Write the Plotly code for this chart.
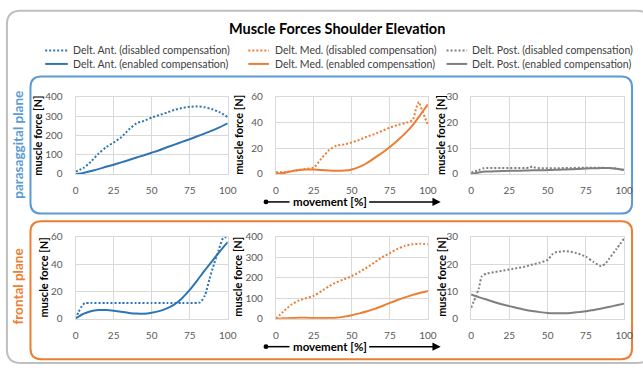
import plotly.graph_objects as go

W, H = 643, 371

# ---------------- data ----------------
x_std = [0, 5, 10, 15, 20, 25, 30, 35, 40, 45, 50, 55, 60, 65, 70, 75, 80, 85, 90, 95, 100]
x_ticks = [0, 25, 50, 75, 100]

# Parasagittal plane
ant_para_dis = [13, 30, 63, 105, 138, 163, 190, 230, 262, 275, 292, 305, 318, 332, 342, 348, 350, 345, 335, 318, 295]
ant_para_en = [0, 5, 15, 25, 37, 48, 60, 72, 85, 97, 110, 123, 138, 152, 166, 180, 195, 210, 226, 243, 262]

med_para_dis_x = [0, 5, 10, 15, 20, 25, 30, 35, 40, 45, 50, 55, 60, 65, 70, 75, 80, 85, 90, 92, 94, 96, 98, 100]
med_para_dis = [1.3, 1.3, 2, 3, 4, 5, 12, 18.5, 22, 23, 24.5, 26.5, 29, 31, 33.5, 36, 38, 39.5, 42, 50, 56, 50, 44, 38]
med_para_en = [0.3, 0.8, 2, 3, 3.5, 3.4, 3, 2.6, 2.4, 2.6, 3.5, 5.5, 8.5, 12.5, 16.5, 21, 26, 31.5, 38, 46, 54]

post_para_dis_x = [0, 5, 8, 10, 15, 20, 25, 30, 35, 38, 40, 42, 45, 50, 55, 60, 65, 70, 75, 80, 85, 90, 95, 100]
post_para_dis = [0.5, 1.5, 2.2, 2.3, 2.3, 2.3, 2.3, 2.3, 2.3, 2.4, 2.9, 2.4, 2.2, 2.2, 2.2, 2.3, 2.3, 2.4, 2.4, 2.4, 2.4, 2.3, 2.1, 1.5]
post_para_en = [0, 0.6, 0.9, 1.0, 1.1, 1.2, 1.2, 1.3, 1.4, 1.4, 1.5, 1.6, 1.7, 1.8, 1.9, 2.1, 2.2, 2.3, 2.3, 2.0, 1.6]

# Frontal plane
ant_front_dis_x = [0, 2, 4, 6, 10, 20, 30, 40, 50, 60, 70, 80, 82, 85, 88, 91, 94, 97, 100]
ant_front_dis = [0, 5, 9, 11.4, 11.5, 11.5, 11.5, 11.5, 11.5, 11.5, 11.5, 11.5, 12, 17, 29, 40, 50, 59, 60]
ant_front_en = [0, 3.5, 5.5, 6.3, 6.3, 5.8, 5, 4.2, 3.7, 3.6, 4.3, 5.5, 7.5, 10.5, 15, 21, 28, 35.5, 42.5, 49.5, 56]

med_front_dis = [0, 35, 68, 88, 100, 112, 135, 158, 178, 192, 208, 228, 250, 275, 300, 320, 340, 356, 363, 365, 363]
med_front_en = [0, 2, 3, 4, 4, 3.5, 3, 3.5, 5, 10, 17, 26, 36, 48, 62, 77, 91, 104, 116, 126, 135]

post_front_dis_x = [0, 3, 5, 7, 10, 15, 20, 25, 30, 35, 40, 45, 50, 53, 55, 60, 65, 70, 75, 80, 85, 88, 90, 95, 100]
post_front_dis = [4, 8, 11, 15.5, 16.5, 17, 17.5, 18, 18.5, 19, 19.8, 20.5, 21.5, 23.5, 24.2, 24.7, 24.5, 23.8, 22.7, 20.7, 19.2, 20.3, 21.8, 25.5, 29.4]
post_front_en = [8.9, 7.9, 7.0, 6.1, 5.3, 4.6, 3.9, 3.3, 2.8, 2.4, 2.1, 2.0, 2.0, 2.1, 2.4, 2.7, 3.2, 3.7, 4.3, 4.9, 5.5]

y_ranges = [400, 60, 30, 60, 400, 30]
y_dticks = [100, 20, 10, 20, 100, 10]

legend_names = [
    "Delt. Ant. (disabled compensation)", "Delt. Med. (disabled compensation)", "Delt. Post. (disabled compensation)",
    "Delt. Ant. (enabled compensation)", "Delt. Med. (enabled compensation)", "Delt. Post. (enabled compensation)",
]

# ---------------- styling ----------------
BLUE = "#2E75B6"
ORANGE = "#ED7D31"
GRAY = "#7F7F7F"
FONT = "Lato"
DOT = "2px,2px"


def px(x):
    return x / W


def py(y):
    return 1 - y / H


fig = go.Figure()

# plot areas in pixels
col_x = [(74, 229), (278, 433), (477, 633)]
row_y = [(93, 173), (238, 323)]

series = [
    (1, x_std, ant_para_dis, BLUE, DOT, legend_names[0]),
    (1, x_std, ant_para_en, BLUE, "solid", legend_names[3]),
    (2, med_para_dis_x, med_para_dis, ORANGE, DOT, legend_names[1]),
    (2, x_std, med_para_en, ORANGE, "solid", legend_names[4]),
    (3, post_para_dis_x, post_para_dis, GRAY, DOT, legend_names[2]),
    (3, x_std, post_para_en, GRAY, "solid", legend_names[5]),
    (4, ant_front_dis_x, ant_front_dis, BLUE, DOT, legend_names[0]),
    (4, x_std, ant_front_en, BLUE, "solid", legend_names[3]),
    (5, x_std, med_front_dis, ORANGE, DOT, legend_names[1]),
    (5, x_std, med_front_en, ORANGE, "solid", legend_names[4]),
    (6, post_front_dis_x, post_front_dis, GRAY, DOT, legend_names[2]),
    (6, x_std, post_front_en, GRAY, "solid", legend_names[5]),
]

for idx, xs, ys, color, dash, name in series:
    suffix = "" if idx == 1 else str(idx)
    fig.add_trace(go.Scatter(
        x=xs, y=ys, mode="lines", name=name, showlegend=False,
        line=dict(color=color, width=2, dash=dash, shape="spline", smoothing=0.6),
        xaxis="x" + suffix, yaxis="y" + suffix,
        hoverinfo="skip",
    ))

tickfont = dict(family=FONT, size=10, color="#595959")
layout = {}
for i in range(6):
    r, c = divmod(i, 3)
    x0, x1 = col_x[c]
    y0, y1 = row_y[r]
    suffix = "" if i == 0 else str(i + 1)
    layout["xaxis" + suffix] = dict(
        domain=[px(x0), px(x1)], anchor="y" + suffix, range=[0, 100],
        tickvals=x_ticks, showgrid=True, gridcolor="#D9D9D9", gridwidth=1,
        zeroline=False, showline=True, linecolor="#D9D9D9", mirror=True,
        ticks="", ticklabelstandoff=7, tickfont=tickfont, fixedrange=True,
    )
    layout["yaxis" + suffix] = dict(
        domain=[py(y1), py(y0)], anchor="x" + suffix, range=[0, y_ranges[i]],
        dtick=y_dticks[i], showgrid=True, gridcolor="#D9D9D9", gridwidth=1,
        zeroline=False, showline=True, linecolor="#D9D9D9", mirror=True,
        ticks="", ticklabelstandoff=10, tickfont=tickfont, fixedrange=True,
    )


def rrect(x0, y0, x1, y1, r):
    rx = r / W
    ry = r / H
    X0, X1 = px(x0), px(x1)
    Y0, Y1 = py(y0), py(y1)  # Y0 top, Y1 bottom
    return (f"M {X0 + rx},{Y0} L {X1 - rx},{Y0} Q {X1},{Y0} {X1},{Y0 - ry} "
            f"L {X1},{Y1 + ry} Q {X1},{Y1} {X1 - rx},{Y1} L {X0 + rx},{Y1} "
            f"Q {X0},{Y1} {X0},{Y1 + ry} L {X0},{Y0 - ry} Q {X0},{Y0} {X0 + rx},{Y0} Z")


shapes = [
    dict(type="path", xref="paper", yref="paper", path=rrect(4, 4, 660, 369, 14),
         line=dict(color="#BFBFBF", width=2), layer="below"),
    dict(type="path", xref="paper", yref="paper", path=rrect(28, 72, 641, 214, 11),
         line=dict(color="#5B9BD5", width=2), layer="below"),
    dict(type="path", xref="paper", yref="paper", path=rrect(28, 222, 641, 365, 11),
         line=dict(color=ORANGE, width=2), layer="below"),
]

annotations = [
    dict(text="<b>Muscle Forces Shoulder Elevation</b>", x=px(340), y=py(22), xref="paper", yref="paper",
         showarrow=False, font=dict(family=FONT, size=14.5, color="#000000"), xanchor="center", yanchor="middle"),
    dict(text="<b>parasaggital plane</b>", x=px(15), y=py(143), xref="paper", yref="paper", textangle=-90,
         showarrow=False, font=dict(family=FONT, size=13.5, color="#5B9BD5"), xanchor="center", yanchor="middle"),
    dict(text="<b>frontal plane</b>", x=px(15), y=py(290), xref="paper", yref="paper", textangle=-90,
         showarrow=False, font=dict(family=FONT, size=13.5, color=ORANGE), xanchor="center", yanchor="middle"),
]

# custom legend (3 columns x 2 rows)
leg_cols = [(43, 66, 69), (250, 271, 275), (452, 473, 476)]
leg_rows = [45, 59]
leg_colors = [BLUE, ORANGE, GRAY]
for k, name in enumerate(legend_names):
    r, c = divmod(k, 3)
    lx0, lx1, tx = leg_cols[c]
    ly = leg_rows[r]
    shapes.append(dict(type="line", xref="paper", yref="paper", x0=px(lx0), x1=px(lx1), y0=py(ly), y1=py(ly),
                       line=dict(color=leg_colors[c], width=2, dash=DOT if r == 0 else "solid")))
    annotations.append(dict(text=name, x=px(tx), y=py(ly), xref="paper", yref="paper", showarrow=False,
                            xanchor="left", yanchor="middle",
                            font=dict(family=FONT, size=10.5, color="#404040")))

ylab_pos = [(35, 133), (240, 133), (446, 133), (41, 280), (239, 280), (447, 280)]
for (lx, ly) in ylab_pos:
    annotations.append(dict(text="<b>muscle force [N]</b>", x=px(lx), y=py(ly), xref="paper", yref="paper",
                            textangle=-90, showarrow=False, font=dict(family=FONT, size=11, color="#000000"),
                            xanchor="center", yanchor="middle"))

for my in (202, 352):
    annotations.append(dict(text="<b>movement [%]</b>", x=px(333), y=py(my), xref="paper", yref="paper",
                            showarrow=False, font=dict(family=FONT, size=11.5, color="#000000"),
                            xanchor="center", yanchor="middle"))
    annotations.append(dict(text="", x=px(446), y=py(my), xref="paper", yref="paper",
                            showarrow=True, ax=-73, ay=0, arrowhead=2, arrowsize=1.1, arrowwidth=1.5,
                            arrowcolor="#000000"))
    shapes.append(dict(type="line", xref="paper", yref="paper", x0=px(268), x1=px(292), y0=py(my), y1=py(my),
                       line=dict(color="#000000", width=1.5)))
    shapes.append(dict(type="circle", xref="paper", yref="paper", x0=px(265.5), x1=px(270.5),
                       y0=py(my + 2.5), y1=py(my - 2.5), fillcolor="#000000", line=dict(width=0)))

fig.update_layout(
    width=W, height=H, autosize=False,
    margin=dict(l=0, r=0, t=0, b=0),
    paper_bgcolor="#FFFFFF", plot_bgcolor="#FFFFFF",
    font=dict(family=FONT),
    showlegend=False,
    shapes=shapes, annotations=annotations,
    **layout,
)

fig.write_html("out.html",
               config={"displayModeBar": False, "staticPlot": True},
               post_script="document.body.style.margin='0';document.body.style.overflow='hidden';")
